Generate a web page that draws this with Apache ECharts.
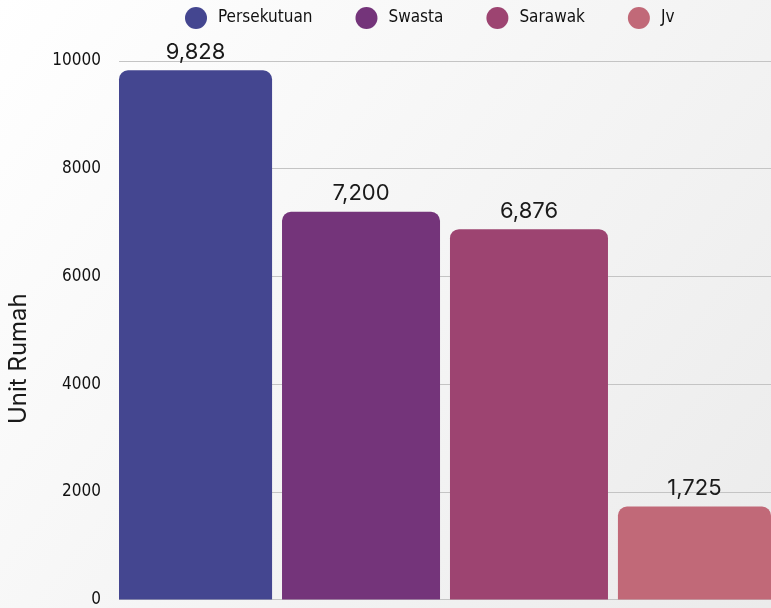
<!DOCTYPE html>
<html>
<head>
<meta charset="utf-8">
<script src="https://cdn.jsdelivr.net/npm/echarts@6/dist/echarts.min.js"></script>
<style>
  html, body { margin: 0; padding: 0; overflow: hidden; }
  #chart { width: 771px; height: 608px; }
</style>
</head>
<body>
<div id="chart"></div>
<script>
// data
const seriesNames = ['Persekutuan', 'Swasta', 'Sarawak', 'Jv'];
const seriesValues = [9828, 7200, 6876, 1725];
const barColors = ['#444690', '#74347a', '#9d4471', '#c16978'];
const category = [''];
const yTicks = { min: 0, max: 10000, step: 2000 };

const narrow = "'DejaVu Sans Condensed', 'Liberation Sans Narrow', sans-serif";

const chart = echarts.init(document.getElementById('chart'));

const series = seriesNames.map((name, i) => ({
  name: name,
  type: 'bar',
  data: [seriesValues[i]],
  barWidth: 158,
  barGap: '6.3%',
  barCategoryGap: '0%',
  itemStyle: { color: barColors[i], borderRadius: [9, 9, 0, 0] },
  label: {
    show: true,
    position: 'top',
    distance: 7,
    color: '#1a1a1a',
    fontFamily: 'Inter, sans-serif',
    fontSize: 22,
    formatter: p => p.value.toLocaleString('en-US')
  }
}));

const option = {
  backgroundColor: new echarts.graphic.LinearGradient(0, 0, 1, 1, [
    { offset: 0, color: '#ffffff' },
    { offset: 1, color: '#ebebeb' }
  ]),
  animation: false,
  legend: {
    left: 180,
    top: 2,
    icon: 'circle',
    itemWidth: 22,
    itemHeight: 22,
    itemGap: 43,
    textStyle: {
      color: '#111',
      fontFamily: narrow,
      fontSize: 17,
      padding: [0, 0, 0, 6]
    }
  },
  grid: {
    left: 119,
    top: 61,
    width: 664,
    bottom: 5,
    containLabel: false
  },
  xAxis: {
    type: 'category',
    data: category,
    axisLine: { show: false },
    axisTick: { show: false },
    axisLabel: { show: false }
  },
  yAxis: {
    type: 'value',
    min: yTicks.min,
    max: yTicks.max,
    interval: yTicks.step,
    axisLine: { show: false },
    axisTick: { show: false },
    axisLabel: {
      color: '#111',
      fontFamily: narrow,
      fontSize: 17,
      margin: 18,
      formatter: v => String(v)
    },
    splitLine: { lineStyle: { color: '#c4c4c4', width: 1 } }
  },
  graphic: [{
    type: 'text',
    x: 7,
    y: 424,
    rotation: Math.PI / 2,
    style: {
      text: 'Unit Rumah',
      fill: '#1a1a1a',
      font: '24px Inter, sans-serif',
      textAlign: 'left',
      textVerticalAlign: 'top'
    }
  }],
  series: series
};

chart.setOption(option);
</script>
</body>
</html>
